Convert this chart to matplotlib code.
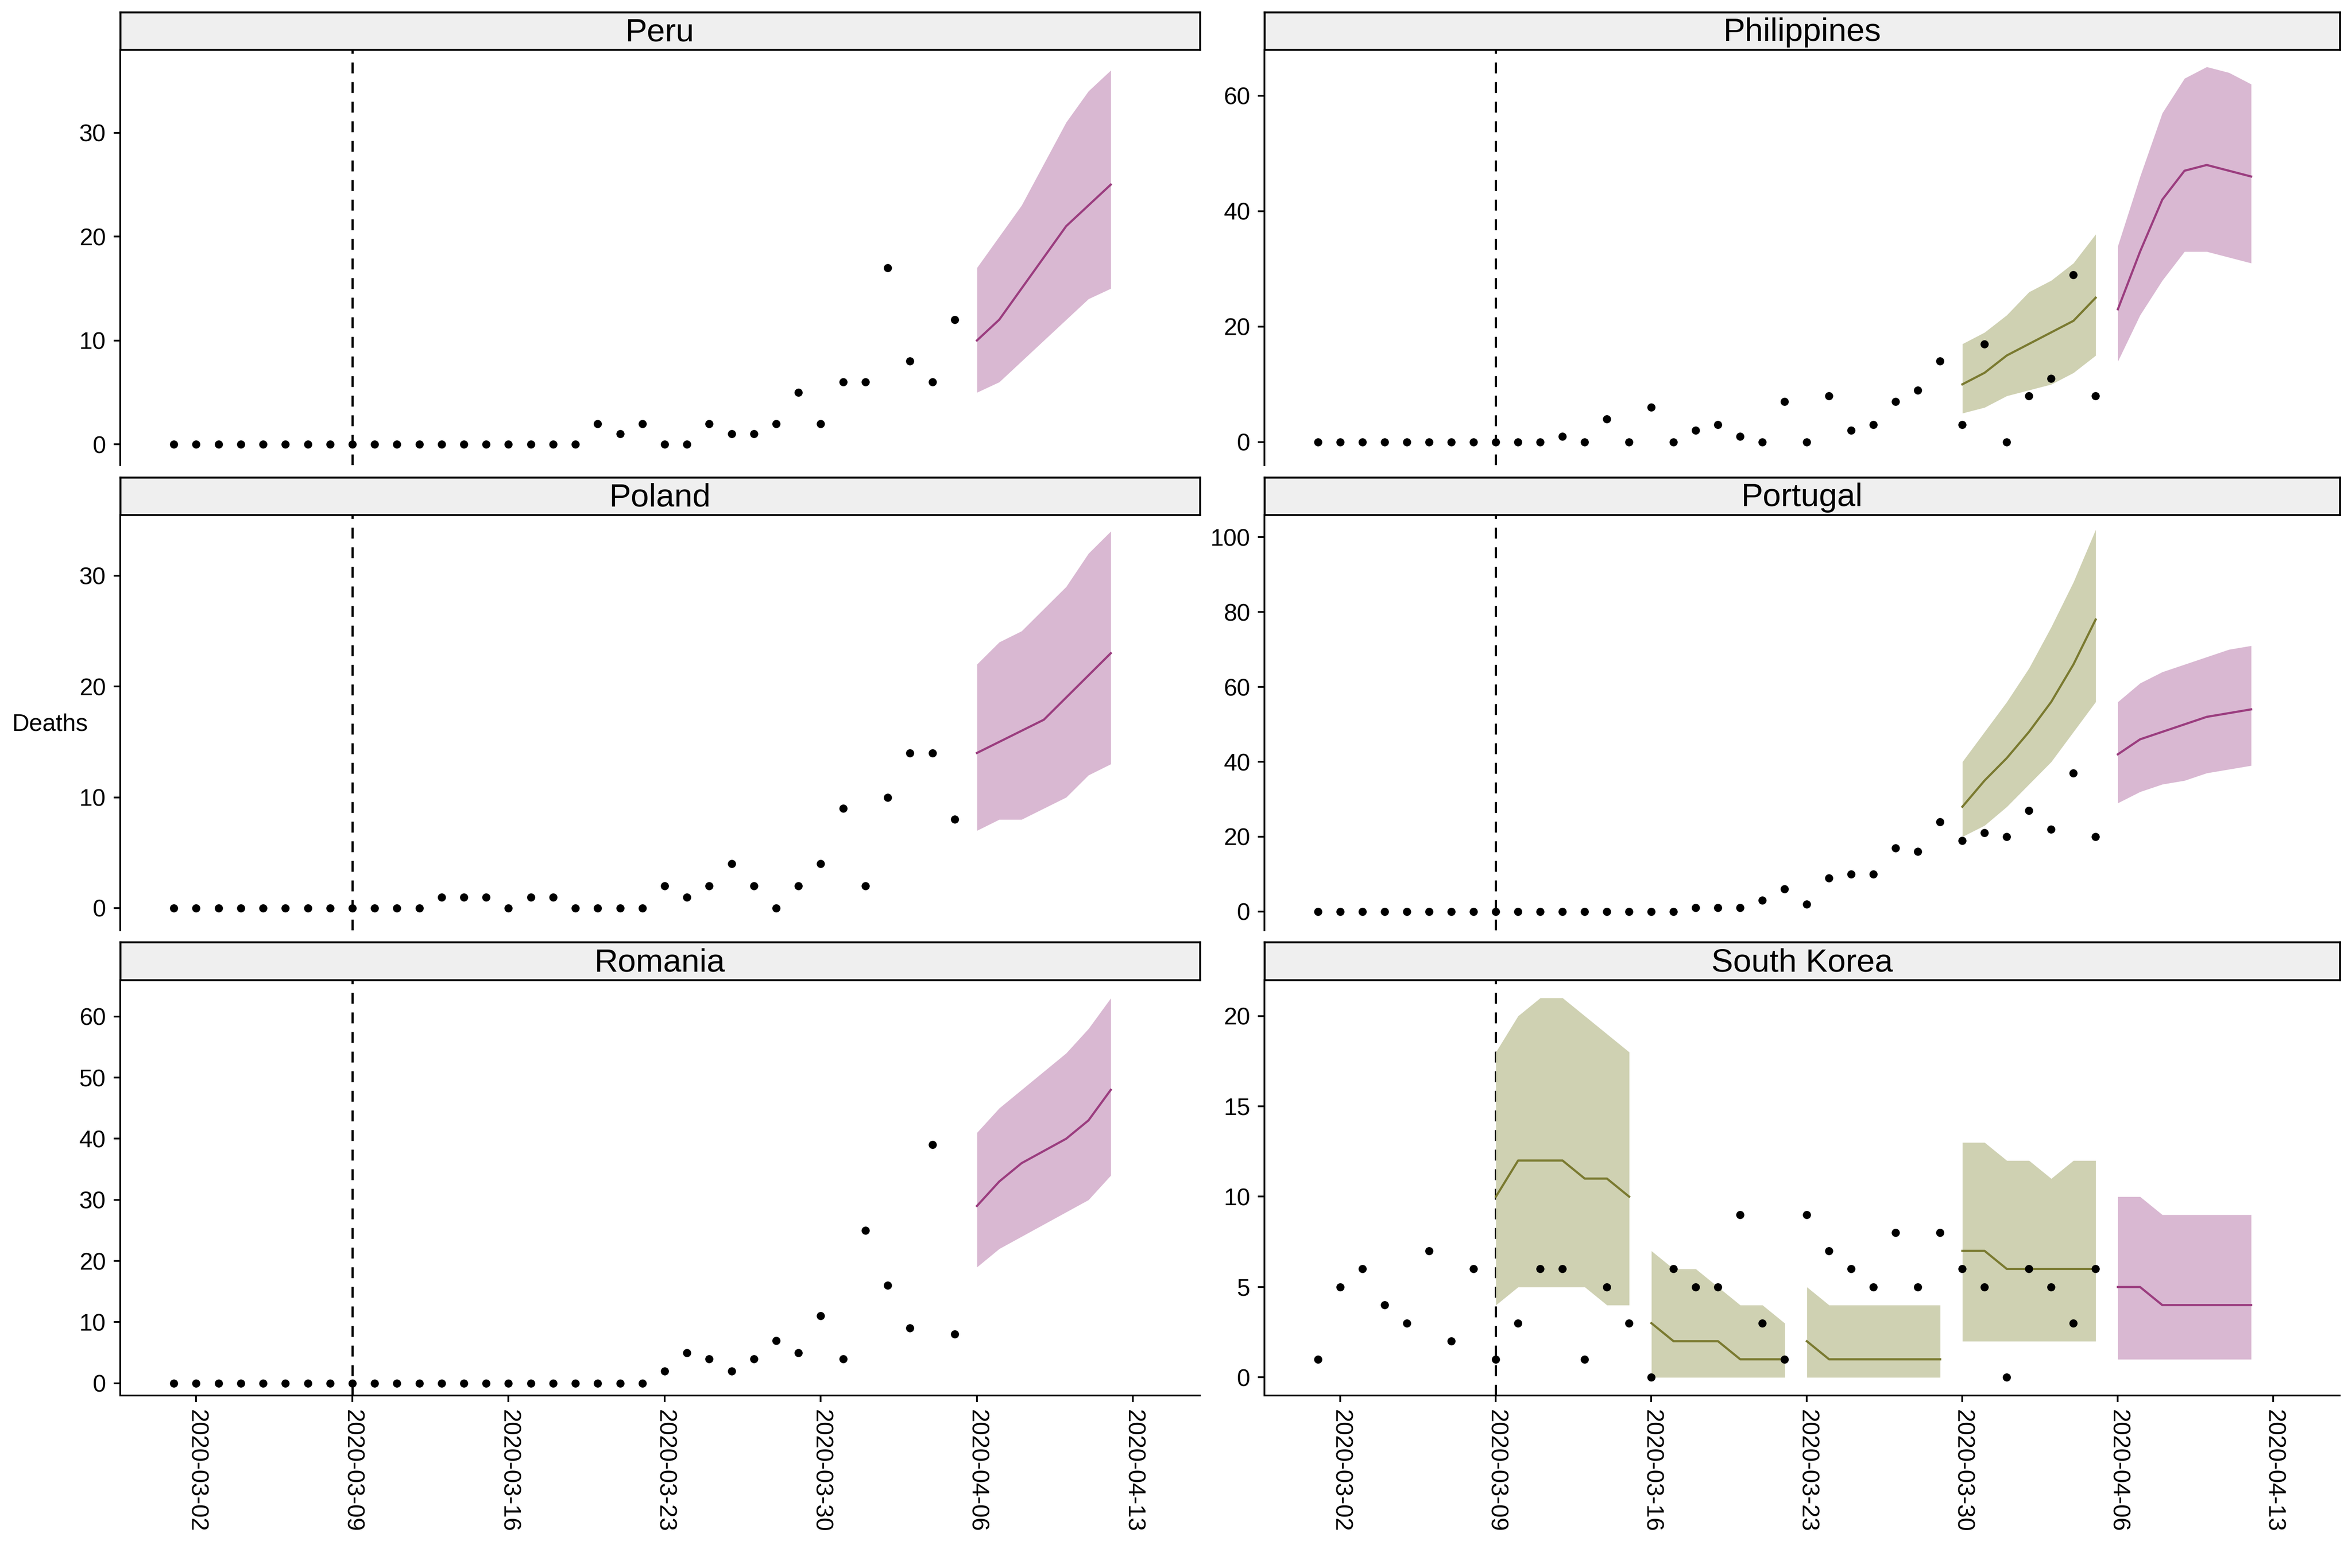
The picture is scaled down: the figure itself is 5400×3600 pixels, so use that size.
import matplotlib
matplotlib.use("Agg")
import matplotlib.pyplot as plt
import matplotlib.dates as mdates
import numpy as np
import pandas as pd

plt.rcParams['font.family'] = ['Liberation Sans', 'DejaVu Sans']

obs_dates = pd.date_range("2020-03-01", "2020-04-05")
green_dates = pd.date_range("2020-03-30", "2020-04-05")
pink_dates = pd.date_range("2020-04-06", "2020-04-12")

countries = ["Peru", "Philippines", "Poland", "Portugal", "Romania", "South Korea"]

peru_obs = [0]*19 + [2, 1, 2, 0, 0, 2, 1, 1, 2, 5, 2, 6, 6, 17, 8, 6, 12]
phil_obs = [0]*11 + [1, 0, 4, 0, 6, 0, 2, 3, 1, 0, 7, 0, 8, 2, 3, 7, 9, 14, 3, 17, 0, 8, 11, 29, 8]
pol_obs = [0]*12 + [1, 1, 1, 0, 1, 1, 0, 0, 0, 0, 2, 1, 2, 4, 2, 0, 2, 4, 9, 2, 10, 14, 14, 8]
port_obs = [0]*17 + [1, 1, 1, 3, 6, 2, 9, 10, 10, 17, 16, 24, 19, 21, 20, 27, 22, 37, 20]
rom_obs = [0]*22 + [2, 5, 4, 2, 4, 7, 5, 11, 4, 25, 16, 9, 39, 8]
kor_obs = [1, 5, 6, 4, 3, 7, 2, 6, 1, 3, 6, 6, 1, 5, 3, 0, 6, 5, 5, 9, 3, 1,
           9, 7, 6, 5, 8, 5, 8, 6, 5, 0, 6, 5, 3, 6]

# forecast bands: (start date, mid, lower, upper)
peru_pink = ("2020-04-06", [10, 12, 15, 18, 21, 23, 25], [5, 6, 8, 10, 12, 14, 15], [17, 20, 23, 27, 31, 34, 36])
phil_green = ("2020-03-30", [10, 12, 15, 17, 19, 21, 25], [5, 6, 8, 9, 10, 12, 15], [17, 19, 22, 26, 28, 31, 36])
phil_pink = ("2020-04-06", [23, 33, 42, 47, 48, 47, 46], [14, 22, 28, 33, 33, 32, 31], [34, 46, 57, 63, 65, 64, 62])
pol_pink = ("2020-04-06", [14, 15, 16, 17, 19, 21, 23], [7, 8, 8, 9, 10, 12, 13], [22, 24, 25, 27, 29, 32, 34])
port_green = ("2020-03-30", [28, 35, 41, 48, 56, 66, 78], [20, 23, 28, 34, 40, 48, 56], [40, 48, 56, 65, 76, 88, 102])
port_pink = ("2020-04-06", [42, 46, 48, 50, 52, 53, 54], [29, 32, 34, 35, 37, 38, 39], [56, 61, 64, 66, 68, 70, 71])
rom_pink = ("2020-04-06", [29, 33, 36, 38, 40, 43, 48], [19, 22, 24, 26, 28, 30, 34], [41, 45, 48, 51, 54, 58, 63])
kor_green1 = ("2020-03-09", [10, 12, 12, 12, 11, 11, 10], [4, 5, 5, 5, 5, 4, 4], [18, 20, 21, 21, 20, 19, 18])
kor_green2 = ("2020-03-16", [3, 2, 2, 2, 1, 1, 1], [0, 0, 0, 0, 0, 0, 0], [7, 6, 6, 5, 4, 4, 3])
kor_green3 = ("2020-03-23", [2, 1, 1, 1, 1, 1, 1], [0, 0, 0, 0, 0, 0, 0], [5, 4, 4, 4, 4, 4, 4])
kor_green4 = ("2020-03-30", [7, 7, 6, 6, 6, 6, 6], [2, 2, 2, 2, 2, 2, 2], [13, 13, 12, 12, 11, 12, 12])
kor_pink = ("2020-04-06", [5, 5, 4, 4, 4, 4, 4], [1, 1, 1, 1, 1, 1, 1], [10, 10, 9, 9, 9, 9, 9])

obs = [peru_obs, phil_obs, pol_obs, port_obs, rom_obs, kor_obs]
greens = [[], [phil_green], [], [port_green], [], [kor_green1, kor_green2, kor_green3, kor_green4]]
pinks = [[peru_pink], [phil_pink], [pol_pink], [port_pink], [rom_pink], [kor_pink]]
yticks = [[0, 10, 20, 30], [0, 20, 40, 60], [0, 10, 20, 30], [0, 20, 40, 60, 80, 100],
          [0, 10, 20, 30, 40, 50, 60], [0, 5, 10, 15, 20]]
ylims = [(-2, 38), (-4, 68), (-2, 35.5), (-5, 106), (-2, 66), (-1, 22)]

W, H = 1568, 1045
cols = [(80, 800), (843, 1560)]
rows = [(8, 33, 310), (318, 343, 620), (628, 653, 930)]

fig = plt.figure(figsize=(15, 10), dpi=360)
xmin, xmax = pd.Timestamp("2020-02-27 14:00"), pd.Timestamp("2020-04-16")
ticks = pd.date_range("2020-03-02", "2020-04-13", freq="7D")

def band(ax, spec, fill, line):
    start, mid, lo, hi = spec
    d = pd.date_range(start, periods=len(mid))
    ax.fill_between(d, lo, hi, color=fill, lw=0, zorder=1)
    ax.plot(d, mid, color=line, lw=1.0, zorder=2)

for i, name in enumerate(countries):
    r, c = divmod(i, 2)
    x0, x1 = cols[c]
    s0, a0, a1 = rows[r]
    ax = fig.add_axes([x0 / W, 1 - a1 / H, (x1 - x0) / W, (a1 - a0) / H])
    st = fig.add_axes([x0 / W, 1 - a0 / H, (x1 - x0) / W, (a0 - s0) / H])
    st.set_facecolor("#EFEFEF")
    st.set_xticks([]); st.set_yticks([])
    for sp in st.spines.values():
        sp.set_linewidth(0.9)
    st.text(0.5, 0.45, name, ha="center", va="center", fontsize=15, transform=st.transAxes)

    for g in greens[i]:
        band(ax, g, "#CFD1B2", "#7A7A30")
    for p in pinks[i]:
        band(ax, p, "#D9B8D2", "#9B3D7F")
    ax.scatter(obs_dates, obs[i], s=14, color="black", zorder=3, lw=0)
    ax.axvline(pd.Timestamp("2020-03-09"), color="black", ls=(0, (5, 4)), lw=1.0, zorder=0)

    ax.set_xlim(xmin, xmax)
    ax.set_ylim(*ylims[i])
    ax.set_yticks(yticks[i])
    ax.tick_params(axis="y", labelsize=11, length=3)
    ax.spines["top"].set_visible(False)
    ax.spines["right"].set_visible(False)
    if r == 2:
        ax.set_xticks(ticks)
        ax.xaxis.set_major_formatter(mdates.DateFormatter("%Y-%m-%d"))
        ax.tick_params(axis="x", labelsize=11, rotation=-90, length=3)
        for lab in ax.get_xticklabels():
            lab.set_ha("center"); lab.set_va("top")
    else:
        ax.spines["bottom"].set_visible(False)
        ax.set_xticks([])

fig.text(8 / W, 0.538, "Deaths", fontsize=11, ha="left", va="center")
fig.savefig("out.png", dpi=360, facecolor="white")
